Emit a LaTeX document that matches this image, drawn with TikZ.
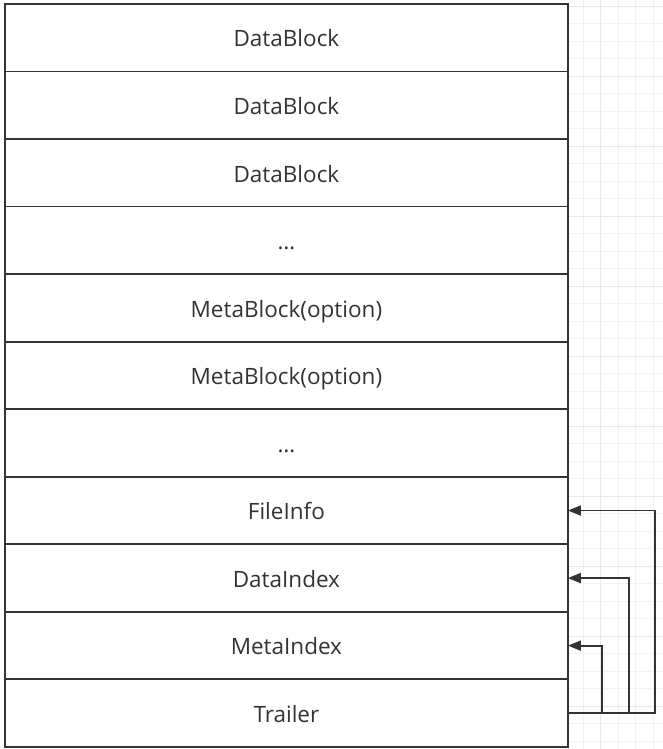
\documentclass[tikz,border=0pt]{standalone}
\usepackage{fontspec}
\setmainfont{Open Sans}
\usepackage{tikz}
\usetikzlibrary{matrix,arrows.meta}
\definecolor{inkgray}{HTML}{333333}
\definecolor{minorgrid}{HTML}{F2F2F2}
\definecolor{majorgrid}{HTML}{E8E8E8}

\begin{document}
\begin{tikzpicture}[
    stackbox/.style={draw=inkgray, line width=1.8pt, text=inkgray,
        minimum width=563pt, minimum height=67.55pt, anchor=center,
        text height=22pt, text depth=3.5pt, inner sep=0pt, outer sep=0pt,
        font=\fontsize{22.5}{27}\selectfont},
    link/.style={draw=inkgray, line width=1.8pt,
        -{Triangle[length=13pt,width=10pt]}}]
    \useasboundingbox (0,0) rectangle (663pt,749pt);

    % background grid on the right
    \begin{scope}
        \clip (568pt,0) rectangle (663pt,749pt);
        \begin{scope}[shift={(600.7pt,673pt)}]
            \draw[minorgrid, line width=.8pt, step=17.5pt] (-70pt,-700pt) grid (70pt,80pt);
            \draw[majorgrid, line width=.9pt, step=70pt] (-70pt,-700pt) grid (70pt,80pt);
        \end{scope}
    \end{scope}

    \matrix (m) [matrix of nodes,
        anchor=north west, inner sep=0pt, outer sep=0pt,
        row sep=-1.8pt, nodes={stackbox}
    ] at (4pt,746pt)
    {
        DataBlock          \\
        DataBlock          \\
        DataBlock          \\
        …                  \\
        MetaBlock(option)  \\
        MetaBlock(option)  \\
        …                  \\
        FileInfo           \\
        DataIndex          \\
        MetaIndex          \\
        Trailer            \\
    };

    \draw[link] (m-11-1.east) -- ++(87pt,0) |- (m-8-1.east);
    \draw[link] (m-11-1.east) -- ++(61pt,0) |- (m-9-1.east);
    \draw[link] (m-11-1.east) -- ++(34pt,0) |- (m-10-1.east);

\end{tikzpicture}
\end{document}
